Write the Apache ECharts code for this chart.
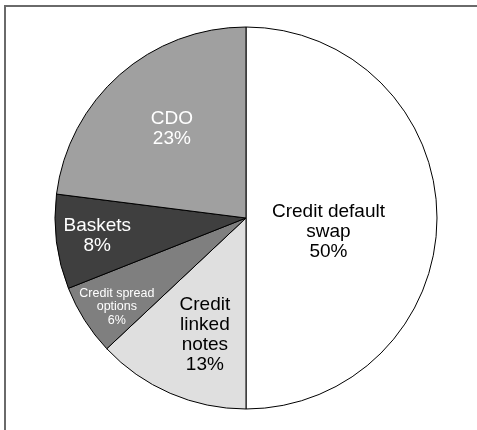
<!DOCTYPE html>
<html><head><meta charset="utf-8">
<script src="https://cdn.jsdelivr.net/npm/echarts@6/dist/echarts.min.js"></script>
<style>
html,body{margin:0;padding:0;background:#fff;}
#frame{position:absolute;left:4px;top:5px;width:473px;height:425px;border-top:2px solid #6a6a6a;border-left:2px solid #6a6a6a;box-sizing:border-box;}
#chart{position:absolute;left:0;top:0;width:477px;height:430px;}
</style></head>
<body>
<div id="frame"></div>
<div id="chart"></div>
<script>
var categories = ['Credit default\nswap', 'Credit\nlinked\nnotes', 'Credit spread\noptions', 'Baskets', 'CDO'];
var shares = [50, 13, 6, 8, 23];
var sliceColors = ['#ffffff', '#dfdfdf', '#7f7f7f', '#3f3f3f', '#a0a0a0'];
var textColors = ['#000000', '#000000', '#ffffff', '#ffffff', '#ffffff'];
var fontSizes = [19, 19, 12.5, 19, 19];
var lineHeights = [20, 20, 13.5, 20, 20];
var labelShift = [[-16, 14], [-2, 26], [-46, 36], [-51, 5], [-9, -15]];

var chart = echarts.init(document.getElementById('chart'), null, {renderer: 'canvas'});
var data = categories.map(function (c, i) {
  return {
    name: c, value: shares[i],
    itemStyle: {color: sliceColors[i]},
    label: {color: textColors[i], fontSize: fontSizes[i], lineHeight: lineHeights[i]}
  };
});
chart.setOption({
  animation: false,
  series: [{
    type: 'pie',
    center: [246, 218],
    radius: 191,
    startAngle: 90,
    clockwise: true,
    avoidLabelOverlap: false,
    itemStyle: {borderColor: '#000', borderWidth: 1},
    label: {
      position: 'inside',
      formatter: '{b}\n{c}%',
      fontFamily: 'Liberation Sans, Arial, sans-serif',
      align: 'center'
    },
    labelLine: {show: false},
    emphasis: {disabled: true},
    labelLayout: function (p) {
      var s = labelShift[p.dataIndex];
      return {dx: s[0], dy: s[1]};
    },
    data: data
  }]
});
</script>
</body></html>
